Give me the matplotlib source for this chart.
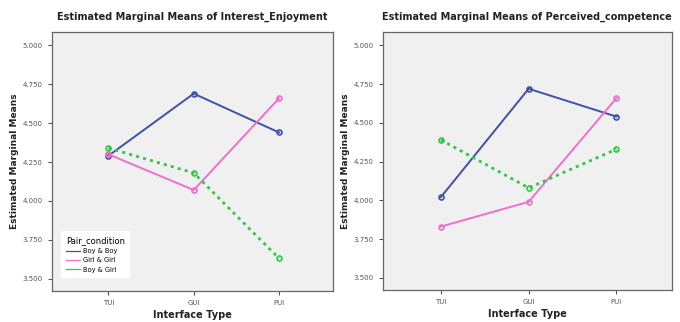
import numpy as np
import matplotlib
matplotlib.use('Agg')
import matplotlib.pyplot as plt

# data
interface = ['TUI', 'GUI', 'PUI']
groups = ['Boy & Boy', 'Girl & Girl', 'Boy & Girl']
interest = [[4.29, 4.69, 4.44],
            [4.30, 4.07, 4.66],
            [4.34, 4.18, 3.63]]
competence = [[4.02, 4.72, 4.54],
              [3.83, 3.99, 4.66],
              [4.39, 4.08, 4.33]]
titles = ['Estimated Marginal Means of Interest_Enjoyment',
          'Estimated Marginal Means of Perceived_competence']
yticks = [3.5, 3.75, 4.0, 4.25, 4.5, 4.75, 5.0]

colors = ['#3f51a8', '#ee6fcc', '#2fc943']
styles = ['-', '-', (0, (1.1, 1.5))]
widths = [1.4, 1.4, 2.0]

fig = plt.figure(figsize=(6.8, 3.22), dpi=100)
fig.patch.set_facecolor('white')
pos = [[0.0765, 0.096, 0.413, 0.804], [0.563, 0.099, 0.425, 0.801]]

x = np.arange(len(interface))
for k, data in enumerate([interest, competence]):
    ax = fig.add_axes(pos[k])
    ax.set_facecolor('#f0f0f0')
    for i, g in enumerate(groups):
        ax.plot(x, data[i], color=colors[i], linestyle=styles[i], linewidth=widths[i],
                marker='o', markersize=3.6, markerfacecolor='none',
                markeredgewidth=1.2, label=g)
    ax.set_xlim(-0.66, 2.63)
    ax.set_ylim(3.42, 5.085)
    ax.set_xticks(x)
    ax.set_xticklabels(interface)
    ax.set_yticks(yticks)
    ax.set_yticklabels(['%.3f' % v for v in yticks])
    ax.tick_params(labelsize=5, colors='#555555', length=3, width=0.8)
    for s in ax.spines.values():
        s.set_color('#666666')
        s.set_linewidth(0.9)
    ax.set_title(titles[k], fontsize=7, fontweight='bold', pad=9, color='#222222')
    ax.set_xlabel('Interface Type', fontsize=7, fontweight='bold', color='#222222', labelpad=3)
    ax.set_ylabel('Estimated Marginal Means', fontsize=6.5, fontweight='bold', color='#222222', labelpad=3)
    if k == 0:
        leg = ax.legend(title='Pair_condition', loc='lower left', fontsize=4.8,
                        title_fontsize=6, frameon=True, fancybox=False,
                        edgecolor='white', facecolor='white', framealpha=1,
                        handlelength=2.2, handletextpad=0.4, labelspacing=0.5,
                        borderpad=0.7, bbox_to_anchor=(0.02, 0.04))
        for h in leg.get_lines():
            h.set_marker('')
            h.set_linestyle('-')
            h.set_linewidth(0.9)
        leg._legend_box.align = 'left'

plt.savefig('out.png', dpi=100)
